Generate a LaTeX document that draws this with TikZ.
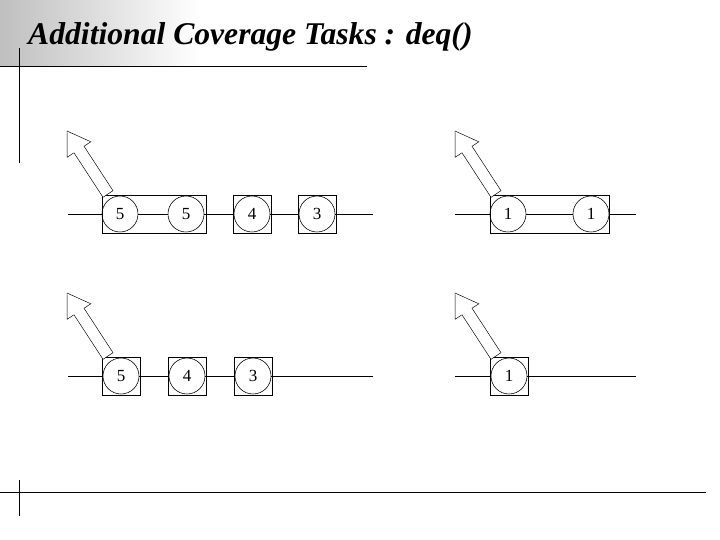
\documentclass[tikz,border=0pt]{standalone}
\usepackage{fontspec}
\setmainfont{Liberation Serif}
\begin{document}
\begin{tikzpicture}[x=0.03cm,y=-0.03cm,
  cnode/.style={circle,draw,line width=0.5pt,minimum size=1.08cm,inner sep=0pt,font=\fontsize{14.5}{14.5}\selectfont},
  sbox/.style={draw,line width=0.5pt,minimum width=1.14cm,minimum height=1.14cm,inner sep=0pt},
  lbox/.style={draw,line width=0.5pt,minimum height=1.14cm,inner sep=0pt},
  wire/.style={line width=0.6pt},
  barrow/.style={draw,line width=0.4pt,fill=white}]
\useasboundingbox (0,0) rectangle (720,540);
\shade[left color=black!25,right color=white] (0,0) rectangle (200,66);
\node[anchor=base west,inner sep=0pt,font=\fontsize{27}{27}\selectfont\bfseries\itshape] (title) at (28,45) {Additional Coverage Tasks : deq()};
\draw[line width=0.6pt] (0,66) -- (367,66);
\draw[line width=0.6pt] (19,48) -- (19,163);
\draw[line width=0.6pt] (0,492) -- (706,492);
\draw[line width=0.6pt] (19,480) -- (19,516);
% top-left row
\node[lbox,minimum width=3.12cm] (b1) at (154,214) {};
\node[sbox] (b2) at (252,214) {};
\node[sbox] (b3) at (317,214) {};
\node[cnode] (c1) at (120,214) {5};
\node[cnode] (c2) at (186,214) {5};
\node[cnode] (c3) at (252,214) {4};
\node[cnode] (c4) at (317,214) {3};
\coordinate (s1) at (68,214); \coordinate (e1) at (373,214);
\draw[wire] (s1) -- (c1) (c1) -- (c2) (c2) -- (c3) (c3) -- (c4) (c4) -- (e1);
% top-right row
\node[lbox,minimum width=3.57cm] (b4) at (549.5,214) {};
\node[cnode] (c5) at (508,214) {1};
\node[cnode] (c6) at (591,214) {1};
\coordinate (s2) at (455,214); \coordinate (e2) at (636,214);
\draw[wire] (s2) -- (c5) (c5) -- (c6) (c6) -- (e2);
% bottom-left row
\node[sbox] (b5) at (121,376) {};
\node[sbox] (b6) at (187,376) {};
\node[sbox] (b7) at (253,376) {};
\node[cnode] (c7) at (121,376) {5};
\node[cnode] (c8) at (187,376) {4};
\node[cnode] (c9) at (253,376) {3};
\coordinate (s3) at (68,376); \coordinate (e3) at (373,376);
\draw[wire] (s3) -- (c7) (c7) -- (c8) (c8) -- (c9) (c9) -- (e3);
% bottom-right row
\node[sbox] (b8) at (509,376) {};
\node[cnode] (c10) at (509,376) {1};
\coordinate (s4) at (455,376); \coordinate (e4) at (636,376);
\draw[wire] (s4) -- (c10) (c10) -- (e4);
% block arrows
\foreach \dx/\dy in {0/0,388/0,0/162,388/162}{
  \draw[barrow,shift={(\dx*0.03cm,-\dy*0.03cm)}] (103,197.3) -- (113,190.7) -- (84,146.2) -- (90.8,141.8) -- (67,131) -- (67.2,157.2) -- (74,152.8) -- cycle;
}
\end{tikzpicture}
\end{document}
